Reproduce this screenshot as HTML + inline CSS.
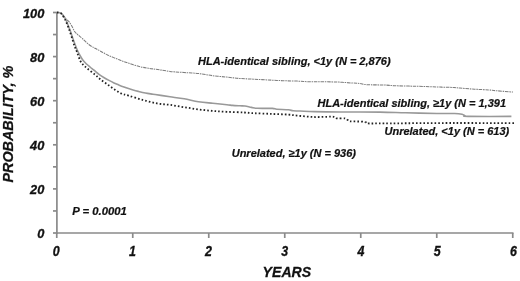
<!DOCTYPE html>
<html><head><meta charset="utf-8"><style>
html,body{margin:0;padding:0;background:#fff;width:520px;height:281px;overflow:hidden}
svg{display:block}
text{font-family:"Liberation Sans",sans-serif;font-style:italic;font-weight:bold;fill:#111}
svg{will-change:transform}
</style></head><body>
<svg width="520" height="281" viewBox="0 0 520 281">
<g stroke="#8a8a8a" stroke-width="1.7" fill="none">
<line x1="56.9" y1="12.5" x2="56.9" y2="234"/>
<line x1="56" y1="233" x2="513.5" y2="233"/>
<line x1="53" y1="233.00" x2="57" y2="233.00"/><line x1="53" y1="210.95" x2="57" y2="210.95"/><line x1="53" y1="188.90" x2="57" y2="188.90"/><line x1="53" y1="166.85" x2="57" y2="166.85"/><line x1="53" y1="144.80" x2="57" y2="144.80"/><line x1="53" y1="122.75" x2="57" y2="122.75"/><line x1="53" y1="100.70" x2="57" y2="100.70"/><line x1="53" y1="78.65" x2="57" y2="78.65"/><line x1="53" y1="56.60" x2="57" y2="56.60"/><line x1="53" y1="34.55" x2="57" y2="34.55"/><line x1="53" y1="12.50" x2="57" y2="12.50"/><line x1="56.75" y1="233" x2="56.75" y2="238"/><line x1="132.75" y1="233" x2="132.75" y2="238"/><line x1="208.75" y1="233" x2="208.75" y2="238"/><line x1="284.75" y1="233" x2="284.75" y2="238"/><line x1="360.75" y1="233" x2="360.75" y2="238"/><line x1="436.75" y1="233" x2="436.75" y2="238"/><line x1="512.75" y1="233" x2="512.75" y2="238"/>
</g>
<g font-size="12.8" stroke="#111" stroke-width="0.3"><text transform="translate(44.3 238.10) scale(1 1.07)" text-anchor="end">0</text><text transform="translate(44.3 194.00) scale(1 1.07)" text-anchor="end">20</text><text transform="translate(44.3 149.90) scale(1 1.07)" text-anchor="end">40</text><text transform="translate(44.3 105.80) scale(1 1.07)" text-anchor="end">60</text><text transform="translate(44.3 61.70) scale(1 1.07)" text-anchor="end">80</text><text transform="translate(44.3 17.60) scale(1 1.07)" text-anchor="end">100</text></g>
<g font-size="12.8" stroke="#111" stroke-width="0.3"><text transform="translate(56.15 255.9) scale(0.97 1.08)" text-anchor="middle">0</text><text transform="translate(132.35 255.9) scale(0.97 1.08)" text-anchor="middle">1</text><text transform="translate(208.55 255.9) scale(0.97 1.08)" text-anchor="middle">2</text><text transform="translate(284.75 255.9) scale(0.97 1.08)" text-anchor="middle">3</text><text transform="translate(360.95 255.9) scale(0.97 1.08)" text-anchor="middle">4</text><text transform="translate(437.15 255.9) scale(0.97 1.08)" text-anchor="middle">5</text><text transform="translate(513.35 255.9) scale(0.97 1.08)" text-anchor="middle">6</text></g>
<path d="M57,12.5 C57.33,12.48 58.33,12.27 59,12.4 C59.67,12.53 60.33,12.78 61,13.3 C61.67,13.82 62.33,14.72 63,15.5 C63.67,16.28 64.08,17.05 65,18 C65.92,18.95 67.42,19.97 68.5,21.2 C69.58,22.43 70.48,23.68 71.5,25.4 C72.52,27.12 73.57,29.97 74.6,31.5 C75.63,33.03 76.42,33.43 77.7,34.6 C78.98,35.77 80.45,36.85 82.3,38.5 C84.15,40.15 86.68,42.87 88.8,44.5 C90.92,46.13 93.13,47.23 95,48.3 C96.87,49.37 97.83,49.75 100,50.9 C102.17,52.05 104.80,53.72 108,55.2 C111.20,56.68 115.87,58.50 119.2,59.8 C122.53,61.10 124.78,61.92 128,63 C131.22,64.08 135.17,65.43 138.5,66.3 C141.83,67.17 144.80,67.67 148,68.2 C151.20,68.73 154.03,68.97 157.7,69.5 C161.37,70.03 165.62,70.90 170,71.4 C174.38,71.90 179.25,72.15 184,72.5 C188.75,72.85 193.72,72.97 198.5,73.5 C203.28,74.03 207.95,75.10 212.7,75.7 C217.45,76.30 222.45,76.63 227,77.1 C231.55,77.57 235.50,78.15 240,78.5 C244.50,78.85 249.25,78.95 254,79.2 C258.75,79.45 263.72,79.75 268.5,80 C273.28,80.25 277.95,80.52 282.7,80.7 C287.45,80.88 292.45,80.92 297,81.1 C301.55,81.28 305.50,81.68 310,81.8 C314.50,81.92 319.25,81.75 324,81.8 C328.75,81.85 333.83,81.90 338.5,82.1 C343.17,82.30 348.42,82.77 352,83 C355.58,83.23 357.50,83.22 360,83.5 C362.50,83.78 363.00,84.45 367,84.7 C371.00,84.95 379.50,84.83 384,85 C388.50,85.17 389.92,85.52 394,85.7 C398.08,85.88 403.72,85.98 408.5,86.1 C413.28,86.22 417.45,86.23 422.7,86.4 C427.95,86.57 434.78,86.92 440,87.1 C445.22,87.28 450.67,87.33 454,87.5 C457.33,87.67 456.58,87.82 460,88.1 C463.42,88.38 469.72,88.90 474.5,89.2 C479.28,89.50 485.12,89.65 488.7,89.9 C492.28,90.15 491.95,90.33 496,90.7 C500.05,91.07 510.17,91.87 513,92.1" fill="none" stroke="#7d7d7d" stroke-width="1.05" stroke-dasharray="3.5 0.8 1.5 0.8" stroke-linejoin="round"/>
<path d="M57,12.5 C57.50,12.55 59.17,12.55 60,12.8 C60.83,13.05 61.33,13.38 62,14 C62.67,14.62 63.33,15.50 64,16.5 C64.67,17.50 65.33,18.58 66,20 C66.67,21.42 67.33,23.33 68,25 C68.67,26.67 69.33,28.17 70,30 C70.67,31.83 71.25,33.83 72,36 C72.75,38.17 73.67,40.75 74.5,43 C75.33,45.25 76.08,47.42 77,49.5 C77.92,51.58 79.00,53.70 80,55.5 C81.00,57.30 81.92,58.88 83,60.3 C84.08,61.72 85.33,62.88 86.5,64 C87.67,65.12 88.75,65.97 90,67 C91.25,68.03 92.50,68.98 94,70.2 C95.50,71.42 97.30,73.05 99,74.3 C100.70,75.55 102.53,76.68 104.2,77.7 C105.87,78.72 107.37,79.53 109,80.4 C110.63,81.27 112.38,82.15 114,82.9 C115.62,83.65 117.03,84.22 118.7,84.9 C120.37,85.58 122.37,86.38 124,87 C125.63,87.62 127.00,88.10 128.5,88.6 C130.00,89.10 131.37,89.53 133,90 C134.63,90.47 136.23,90.90 138.3,91.4 C140.37,91.90 142.95,92.53 145.4,93 C147.85,93.47 150.43,93.80 153,94.2 C155.57,94.60 157.97,94.97 160.8,95.4 C163.63,95.83 166.10,96.23 170,96.8 C173.90,97.37 179.45,97.98 184.2,98.8 C188.95,99.62 193.75,100.95 198.5,101.7 C203.25,102.45 207.97,102.80 212.7,103.3 C217.43,103.80 223.58,104.35 226.9,104.7 C230.22,105.05 230.42,105.22 232.6,105.4 C234.78,105.58 237.93,105.70 240,105.8 C242.07,105.90 243.08,105.73 245,106 C246.92,106.27 249.45,107.02 251.5,107.4 C253.55,107.78 253.83,108.13 257.3,108.3 C260.77,108.47 269.03,108.25 272.3,108.4 C275.57,108.55 274.20,108.97 276.9,109.2 C279.60,109.43 285.80,109.53 288.5,109.8 C291.20,110.07 291.18,110.60 293.1,110.8 C295.02,111.00 296.52,110.87 300,111 C303.48,111.13 307.33,111.43 314,111.6 C320.67,111.77 329.00,111.92 340,112 C351.00,112.08 369.07,111.97 380,112.1 C390.93,112.23 396.12,112.57 405.6,112.8 C415.08,113.03 428.75,113.38 436.9,113.5 C445.05,113.62 450.32,113.37 454.5,113.5 C458.68,113.63 460.25,113.92 462,114.3 C463.75,114.68 464.00,115.45 465,115.8 C466.00,116.15 460.27,116.30 468,116.4 C475.73,116.50 504.17,116.40 511.4,116.4" fill="none" stroke="#999" stroke-width="1.6" stroke-linejoin="round"/>
<path d="M57,12.5 C57.50,12.55 59.17,12.47 60,12.8 C60.83,13.13 61.33,13.72 62,14.5 C62.67,15.28 63.33,16.35 64,17.5 C64.67,18.65 65.20,19.57 66,21.4 C66.80,23.23 67.85,25.90 68.8,28.5 C69.75,31.10 70.75,34.08 71.7,37 C72.65,39.92 73.62,43.50 74.5,46 C75.38,48.50 76.05,49.55 77,52 C77.95,54.45 79.12,58.53 80.2,60.7 C81.28,62.87 82.32,63.70 83.5,65 C84.68,66.30 85.47,66.97 87.3,68.5 C89.13,70.03 92.35,72.42 94.5,74.2 C96.65,75.98 98.10,77.53 100.2,79.2 C102.30,80.87 104.77,82.53 107.1,84.2 C109.43,85.87 111.83,87.65 114.2,89.2 C116.57,90.75 118.92,92.43 121.3,93.5 C123.68,94.57 124.93,94.53 128.5,95.6 C132.07,96.67 137.97,98.60 142.7,99.9 C147.43,101.20 152.35,102.57 156.9,103.4 C161.45,104.23 165.45,104.27 170,104.9 C174.55,105.53 179.45,106.45 184.2,107.2 C188.95,107.95 193.75,108.78 198.5,109.4 C203.25,110.02 207.97,110.50 212.7,110.9 C217.43,111.30 221.68,111.53 226.9,111.8 C232.12,112.07 239.45,112.27 244,112.5 C248.55,112.73 249.65,112.97 254.2,113.2 C258.75,113.43 265.60,113.67 271.3,113.9 C277.00,114.13 284.13,114.32 288.4,114.6 C292.67,114.88 292.63,115.20 296.9,115.6 C301.17,116.00 308.32,116.82 314,117 C319.68,117.18 327.50,116.67 331,116.7 C334.50,116.73 333.95,116.92 335,117.2 C336.05,117.48 335.63,118.20 337.3,118.4 C338.97,118.60 343.27,118.12 345,118.4 C346.73,118.68 346.87,119.62 347.7,120.1 C348.53,120.58 347.70,121.05 350,121.3 C352.30,121.55 358.83,121.42 361.5,121.6 C364.17,121.78 364.92,122.10 366,122.4 C367.08,122.70 365.00,123.23 368,123.4 C371.00,123.57 369.67,123.47 384,123.4 C398.33,123.33 432.05,123.03 454,123 C475.95,122.97 505.42,123.17 515.7,123.2" fill="none" stroke="#222" stroke-width="1.8" stroke-dasharray="1.6 2.1"/>
<g font-size="11" stroke="#111" stroke-width="0.22">
<text x="198" y="64.5">HLA-identical sibling, &lt;1y (N = 2,876)</text>
<text x="317.5" y="106.5">HLA-identical sibling, ≥1y (N = 1,391</text>
<text x="384.5" y="134.6">Unrelated, &lt;1y (N = 613)</text>
<text x="231.7" y="156.5">Unrelated, ≥1y (N = 936)</text>
<text x="72.3" y="214.6" font-size="11.3">P = 0.0001</text>
</g>
<text transform="translate(262.6 277) scale(1 1.03)" font-size="14.1" stroke="#111" stroke-width="0.25">YEARS</text>
<text transform="translate(13.2,182.6) rotate(-90)" font-size="14.4" stroke="#111" stroke-width="0.25">PROBABILITY, %</text>
</svg>
</body></html>
